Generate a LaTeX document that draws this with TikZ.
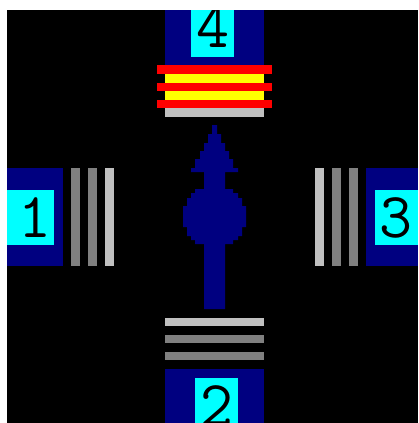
\documentclass[tikz,border=0pt]{standalone}
\usepackage{fontspec}
\definecolor{navy}{HTML}{000080}
\definecolor{aqua}{HTML}{00FFFF}
\definecolor{rd}{HTML}{FF0000}
\definecolor{yl}{HTML}{FFFF00}
\definecolor{silv}{HTML}{C0C0C0}
\definecolor{gry}{HTML}{808080}
\tikzset{
  digit/.style={anchor=base,inner sep=0pt,text=black,font=\ttfamily\fontsize{64}{70}\selectfont},
}
\begin{document}
\begin{tikzpicture}[x=1pt,y=-1pt]
\useasboundingbox (0,0) rectangle (418,423);
\fill[white] (0,0) rectangle (418,423);
\fill[black] (7,10) rectangle (418,423);
\begin{scope}
\clip (7,10) rectangle (418,423);
% top box 4
\fill[navy] (165,10) rectangle (264,65);
\fill[aqua] (191,10) rectangle (234,57);
\node[digit] (d4) at (212.5,47) {4};
% top stripes
\fill[rd] (157,65) rectangle (272,74);
\fill[yl] (165,74) rectangle (264,83);
\fill[rd] (157,83) rectangle (272,91);
\fill[yl] (165,91) rectangle (264,100);
\fill[rd] (157,100) rectangle (272,108);
\fill[silv] (165,108) rectangle (264,117);
% left box 1
\fill[navy] (7,168) rectangle (63,266);
\fill[aqua] (7,190) rectangle (54,245);
\node[digit] (d1) at (35,237) {1};
\fill[gry] (71,168) rectangle (80,266);
\fill[gry] (88,168) rectangle (97,266);
\fill[silv] (105,168) rectangle (114,266);
% right box 3
\fill[navy] (366,168) rectangle (418,266);
\fill[aqua] (375,190) rectangle (418,245);
\node[digit] (d3) at (396,237) {3};
\fill[silv] (315,168) rectangle (324,266);
\fill[gry] (332,168) rectangle (341,266);
\fill[gry] (349,168) rectangle (358,266);
% bottom box 2
\fill[silv] (165,318) rectangle (264,326);
\fill[gry] (165,335) rectangle (264,343);
\fill[gry] (165,352) rectangle (264,360);
\fill[navy] (165,369) rectangle (264,423);
\fill[aqua] (195,378) rectangle (238,423);
\node[digit] (d2) at (216.5,425) {2};
% arrow
\fill[navy] (212,125) -- (217,125) -- (217,134) -- (221,134) -- (221,143) -- (225,143) -- (225,151) -- (229,151) -- (229,159) -- (233,159) -- (233,168) -- (238,168) -- (238,172) -- (225,172) -- (225,189) -- (233,189) -- (233,193) -- (238,193) -- (238,198) -- (242,198) -- (242,206) -- (246,206) -- (246,227) -- (242,227) -- (242,236) -- (238,236) -- (238,240) -- (233,240) -- (233,244) -- (225,244) -- (225,309) -- (204,309) -- (204,244) -- (195,244) -- (195,240) -- (191,240) -- (191,236) -- (187,236) -- (187,227) -- (183,227) -- (183,206) -- (187,206) -- (187,198) -- (191,198) -- (191,193) -- (195,193) -- (195,189) -- (204,189) -- (204,172) -- (191,172) -- (191,168) -- (195,168) -- (195,159) -- (200,159) -- (200,151) -- (204,151) -- (204,143) -- (208,143) -- (208,134) -- (212,134) -- cycle;
\end{scope}
\end{tikzpicture}
\end{document}
